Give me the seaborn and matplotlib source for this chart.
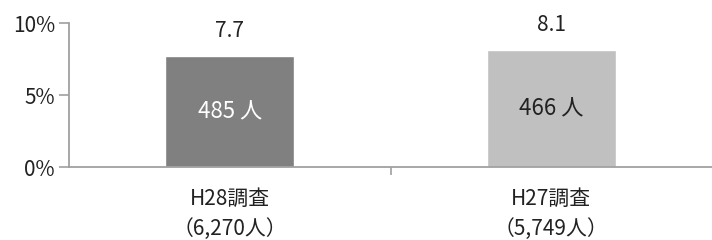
import matplotlib
matplotlib.use("Agg")
import matplotlib.pyplot as plt
import seaborn as sns
import pandas as pd
from matplotlib.ticker import FixedLocator

# データ
categories = ["H28調査\n（6,270人）", "H27調査\n（5,749人）"]
rates = [7.7, 8.1]
counts = ["485 人", "466 人"]
bar_colors = ["#808080", "#c0c0c0"]
inner_text_colors = ["white", "#222222"]

sns.set_theme(style="white")
plt.rcParams["font.family"] = ["Noto Sans CJK JP", "DejaVu Sans"]

df = pd.DataFrame({"cat": categories, "rate": rates})

fig = plt.figure(figsize=(7.12, 2.4), dpi=100)
ax = fig.add_axes([69 / 712, 73 / 240, 643 / 712, 144 / 240])

sns.barplot(data=df, x="cat", y="rate", hue="cat", palette=bar_colors,
            legend=False, width=0.4, saturation=1, ax=ax)

axis_col = "#a0a0a0"
ax.set_xlim(-0.5, 1.5)
ax.set_ylim(0, 10)
ax.set_yticks([0, 5, 10])
ax.set_yticklabels(["0%", "5%", "10%"], fontsize=15, color="#222222")
ax.tick_params(axis="y", direction="out", length=7, width=1.2, color=axis_col, pad=3, left=True)
ax.tick_params(axis="x", which="major", length=0, pad=15, labelsize=15, labelcolor="#222222")
for lbl in ax.get_xticklabels():
    lbl.set_linespacing(1.5)
ax.xaxis.set_minor_locator(FixedLocator([0.5]))
ax.tick_params(axis="x", which="minor", direction="out", length=6, width=1.2, color=axis_col, bottom=True)
ax.set_xlabel("")
ax.set_ylabel("")

sns.despine(ax=ax, top=True, right=True)
for s in ["left", "bottom"]:
    ax.spines[s].set_color(axis_col)
    ax.spines[s].set_linewidth(1.3)

for i, cont in enumerate(ax.containers):
    for p in cont.patches:
        h = p.get_height()
        cx = p.get_x() + p.get_width() / 2
        ax.annotate(f"{h:.1f}", (cx, h), xytext=(0, 18), textcoords="offset points",
                    ha="center", va="center", fontsize=15, color="#222222")
        ax.text(cx, h / 2, counts[i], ha="center", va="center", fontsize=16,
                color=inner_text_colors[i])

fig.savefig("out.png", dpi=100)
